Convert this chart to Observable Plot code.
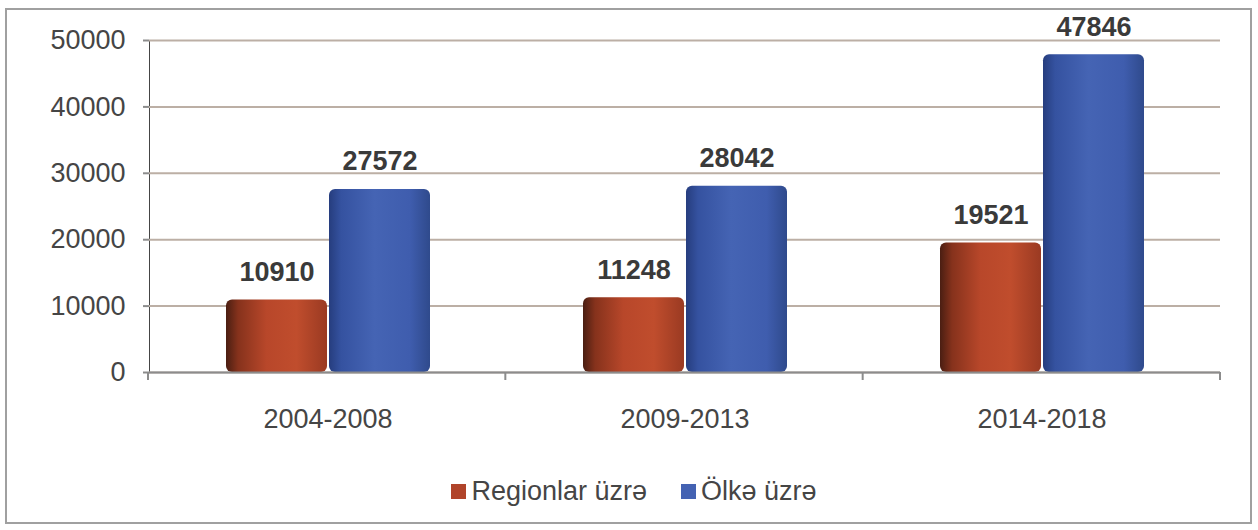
<!DOCTYPE html>
<html>
<head>
<meta charset="utf-8">
<script src="https://cdn.jsdelivr.net/npm/d3@7"></script>
<script src="https://cdn.jsdelivr.net/npm/@observablehq/plot@0.6"></script>
<style>
  html, body { margin: 0; padding: 0; background: #fff; }
  body { width: 1258px; height: 530px; position: relative; overflow: hidden;
         font-family: "Liberation Sans", Arial, sans-serif; }
  #frame { position: absolute; left: 5px; top: 8px; width: 1243px; height: 512px;
           border: 2px solid #a0a0a0; box-sizing: content-box; }
  #chart { position: absolute; left: 0; top: 0; }
  #legend { position: absolute; left: 0; top: 476px; width: 1258px; display: flex;
            justify-content: center; gap: 34px; font-size: 27px; color: #454545; padding-left: 10px; box-sizing: border-box; }
  .item { display: flex; align-items: center; }
  .sw { width: 15px; height: 15px; margin-right: 5px; }
</style>
</head>
<body>
<div id="frame"></div>
<div id="chart"></div>
<div id="legend"></div>
<script>
const periods = ["2004-2008", "2009-2013", "2014-2018"];
const seriesNames = ["Regionlar üzrə", "Ölkə üzrə"];
const regional = [10910, 11248, 19521];
const national = [27572, 28042, 47846];
const yTicks = [0, 10000, 20000, 30000, 40000, 50000];

const table = [];
periods.forEach((p, i) => {
  table.push({period: p, series: seriesNames[0], value: regional[i]});
  table.push({period: p, series: seriesNames[1], value: national[i]});
});

const textColor = "#454545";
const chart = Plot.plot({
  width: 1258,
  height: 450,
  marginLeft: 148,
  marginRight: 38,
  marginTop: 40,
  marginBottom: 78,
  style: {fontFamily: "'Liberation Sans', Arial, sans-serif", fontSize: "27px", color: textColor, background: "transparent"},
  facet: {data: table, x: "period"},
  fx: {domain: periods, padding: 0, label: null, tickSize: 0, tickPadding: 36},
  x: {domain: seriesNames, paddingInner: 0.02, paddingOuter: 0.74, axis: null, label: null},
  y: {domain: [0, 50000], ticks: yTicks, tickFormat: d => String(d), label: null, tickSize: 6, tickPadding: 18, line: true},
  marks: [
    Plot.ruleY(yTicks, {stroke: "#bcafa5", strokeWidth: 2}),
    Plot.barY(table, {filter: d => d.series === seriesNames[0], x: "series", y: "value", fill: "url(#gradR)", rx: 6}),
    Plot.barY(table, {filter: d => d.series === seriesNames[1], x: "series", y: "value", fill: "url(#gradB)", rx: 6}),
    Plot.text(table, {x: "series", y: "value", text: d => String(d.value), fontWeight: "bold", fontSize: 27, fill: "#3a3a3a", lineAnchor: "bottom", dy: -19}),
    Plot.ruleY([0], {stroke: "#8c8c8c", strokeWidth: 2})
  ]
});

// gradients for cylinder-like bars
const ns = "http://www.w3.org/2000/svg";
const defs = document.createElementNS(ns, "defs");
function grad(id, stops) {
  const g = document.createElementNS(ns, "linearGradient");
  g.setAttribute("id", id);
  g.setAttribute("x1", "0"); g.setAttribute("x2", "1"); g.setAttribute("y1", "0"); g.setAttribute("y2", "0");
  stops.forEach(([o, c]) => {
    const s = document.createElementNS(ns, "stop");
    s.setAttribute("offset", o); s.setAttribute("stop-color", c);
    g.appendChild(s);
  });
  defs.appendChild(g);
}
grad("gradR", [["0", "#4a1e12"], ["0.12", "#86321c"], ["0.4", "#b8472a"], ["0.7", "#c04d2d"], ["1", "#9a3a22"]]);
grad("gradB", [["0", "#263d7e"], ["0.12", "#3552a0"], ["0.45", "#4564b4"], ["0.8", "#3f5dae"], ["1", "#2f4a8c"]]);
chart.insertBefore(defs, chart.firstChild);

// axis styling
chart.querySelectorAll("[aria-label='y-axis'] line, [aria-label='y-axis tick'] path, [aria-label='y-axis'] path").forEach(el => { el.setAttribute("stroke", "#8c8c8c"); el.setAttribute("stroke-width", "2"); });

// boundary tick marks on the category axis
const fx = chart.scale("fx");
const fxScale = d3.scaleBand(fx.domain, fx.range).padding(0);
const y = chart.scale("y");
const y0 = d3.scaleLinear(y.domain, y.range)(0);
const bounds = periods.map(p => fxScale(p)).concat([fxScale(periods[periods.length - 1]) + fxScale.bandwidth()]);
const tg = document.createElementNS(ns, "g");
bounds.forEach(bx => {
  const l = document.createElementNS(ns, "line");
  l.setAttribute("x1", bx); l.setAttribute("x2", bx);
  l.setAttribute("y1", y0); l.setAttribute("y2", y0 + 8);
  l.setAttribute("stroke", "#8c8c8c"); l.setAttribute("stroke-width", "2");
  tg.appendChild(l);
});
chart.appendChild(tg);

document.getElementById("chart").appendChild(chart);

// legend
const legend = document.getElementById("legend");
const swatchColors = ["#b0442a", "#4462b2"];
seriesNames.forEach((s, i) => {
  const it = document.createElement("div"); it.className = "item";
  const sw = document.createElement("div"); sw.className = "sw"; sw.style.background = swatchColors[i];
  const tx = document.createElement("span"); tx.textContent = s;
  it.appendChild(sw); it.appendChild(tx); legend.appendChild(it);
});
</script>
</body>
</html>
